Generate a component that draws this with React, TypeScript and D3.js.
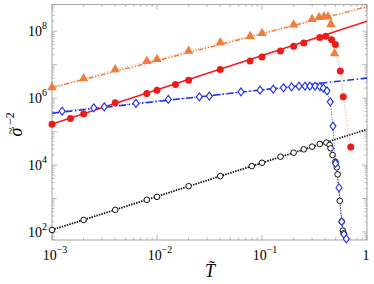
import React from 'react';
import * as d3 from 'd3';

// ---- data ----
const blackT = [0.001, 0.002, 0.004, 0.008, 0.01, 0.02, 0.04, 0.08, 0.1, 0.15, 0.2, 0.25, 0.3, 0.355, 0.41, 0.44, 0.45, 0.47, 0.5, 0.515, 0.525, 0.55, 0.575, 0.59, 0.6];
const blackS = [115, 229, 457, 912, 1120, 2340, 4680, 9330, 11700, 17800, 23400, 29500, 35500, 42700, 46800, 39800, 31600, 20000, 12600, 8510, 5250, 851, 204, 110, 91];

const blueT = [0.00125, 0.0025, 0.00315, 0.0063, 0.0128, 0.0253, 0.0315, 0.063, 0.0957, 0.128, 0.16, 0.191, 0.225, 0.257, 0.286, 0.32, 0.356, 0.384, 0.416, 0.447, 0.474, 0.501, 0.541, 0.574, 0.604, 0.635];
const blueS = [4.09e5, 5.13e5, 5.5e5, 6.95e5, 9.14e5, 1.09e6, 1.15e6, 1.54e6, 1.73e6, 1.86e6, 2.03e6, 2.17e6, 2.28e6, 2.28e6, 2.28e6, 2.28e6, 2.2e6, 1.99e6, 1.65e6, 7.76e5, 1.46e5, 1.12e4, 2100, 203, 85, 62];

const redT = [0.001, 0.0015, 0.002, 0.004, 0.008, 0.01, 0.015, 0.02, 0.04, 0.077, 0.1, 0.15, 0.2, 0.25, 0.355, 0.405, 0.46, 0.5, 0.557, 0.594, 0.7];
const redS = [1.67e5, 2.48e5, 3.33e5, 7.24e5, 1.38e6, 1.73e6, 2.56e6, 3.44e6, 7.19e6, 1.3e7, 1.71e7, 2.58e7, 3.56e7, 4.48e7, 6.49e7, 7.1e7, 5.57e7, 4.04e7, 6.53e6, 1.11e6, 3.44e4];

const orangeT = [0.001, 0.002, 0.004, 0.008, 0.01, 0.02, 0.04, 0.077, 0.1, 0.2, 0.3, 0.35, 0.39, 0.425, 0.454, 0.49];
const orangeS = [2.08e6, 3.87e6, 7.19e6, 1.27e7, 1.46e7, 2.58e7, 4.6e7, 7.1e7, 8.71e7, 1.56e8, 2.28e8, 2.62e8, 2.75e8, 2.71e8, 1.62e8, 2.16e7];

// fitted power laws (endpoints at T = 1e-3 and T = 1)
const fitT = [0.001, 1];
const fitBlack = [115, 1.17e5];
const fitBlue = [3.55e5, 3.98e6];
const fitRed = [1.67e5, 2.0e8];
const fitOrange = [2.06e6, 5.38e8];

// axes
const xDomain = [1e-3, 1];
const yDomain = [57.5, 6.3e8];
const xTicks = [1e-3, 1e-2, 1e-1, 1];
const xTickBase = ['10', '10', '10', '1'];
const xTickExp = ['\u22123', '\u22122', '\u22121', ''];
const yTicks = [1e2, 1e4, 1e6, 1e8];
const yTickExp = ['2', '4', '6', '8'];

const W = 374;
const H = 284;
const L = 52, R = 367, T0 = 4.5, B = 240;

const C_BLACK = '#111111';
const C_BLUE = '#1f2fe8';
const C_RED = '#ee1a1a';
const C_ORANGE = '#f47a3a';
const FRAME = '#a6a6a6';

export default function App() {
  const x = d3.scaleLog().domain(xDomain).range([L, R]);
  const y = d3.scaleLog().domain(yDomain).range([B, T0]);

  const mkLine = (ts: number[]) =>
    d3.line<number>().x((_, i) => x(ts[i])).y((d) => y(d));

  // minor ticks
  const xMinor: number[] = [];
  for (let e = -3; e < 0; e++) for (let m = 2; m <= 9; m++) xMinor.push(m * Math.pow(10, e));
  const yMinor: number[] = [];
  for (let e = 1; e <= 8; e++) for (let m = 2; m <= 9; m++) {
    const v = m * Math.pow(10, e);
    if (v > yDomain[0] && v < yDomain[1]) yMinor.push(v);
  }
  const yMid: number[] = [1e3, 1e5, 1e7];

  const diamond = 'M0,-4L3,0L0,4L-3,0Z';
  const tri = d3.symbol().type(d3.symbolTriangle).size(38)() as string;

  const font = "'Liberation Serif', 'DejaVu Serif', serif";

  return (
    <svg width={W} height={H} style={{ position: 'absolute', left: 0, top: 0, background: '#fff' }} fontFamily={font}>
      <defs>
        <clipPath id="plot">
          <rect x={L} y={T0} width={R - L} height={B - T0} />
        </clipPath>
      </defs>

      {/* frame */}
      <rect x={L} y={T0} width={R - L} height={B - T0} fill="none" stroke={FRAME} strokeWidth={1} />

      {/* ticks */}
      <g stroke={FRAME} strokeWidth={0.8}>
        {xTicks.map((v, i) => (
          <g key={'xt' + i}>
            <line x1={x(v)} x2={x(v)} y1={B} y2={B - 5} />
            <line x1={x(v)} x2={x(v)} y1={T0} y2={T0 + 5} />
          </g>
        ))}
        {xMinor.map((v, i) => (
          <g key={'xm' + i}>
            <line x1={x(v)} x2={x(v)} y1={B} y2={B - 2.5} />
            <line x1={x(v)} x2={x(v)} y1={T0} y2={T0 + 2.5} />
          </g>
        ))}
        {yTicks.concat(yMid).map((v, i) => (
          <g key={'yt' + i}>
            <line x1={L} x2={L + 5} y1={y(v)} y2={y(v)} />
            <line x1={R} x2={R - 5} y1={y(v)} y2={y(v)} />
          </g>
        ))}
        {yMinor.map((v, i) => (
          <g key={'ym' + i}>
            <line x1={L} x2={L + 2.5} y1={y(v)} y2={y(v)} />
            <line x1={R} x2={R - 2.5} y1={y(v)} y2={y(v)} />
          </g>
        ))}
      </g>

      {/* thin connecting lines through the points */}
      <g fill="none" strokeWidth={0.9} strokeDasharray="1,1.6">
        <path d={mkLine(blackT)(blackS) || ''} stroke={C_BLACK} />
        <path d={mkLine(blueT)(blueS) || ''} stroke={C_BLUE} />
        <path d={mkLine(redT)(redS) || ''} stroke="#f48a8a" />
        <path d={mkLine(orangeT)(orangeS) || ''} stroke="#f6a676" />
      </g>

      {/* fit lines */}
      <g fill="none" clipPath="url(#plot)">
        <path d={mkLine(fitT)(fitBlack) || ''} stroke={C_BLACK} strokeWidth={1.8} strokeDasharray="1.3,1.3" />
        <path d={mkLine(fitT)(fitBlue) || ''} stroke={C_BLUE} strokeWidth={1.6} strokeDasharray="7,2.5,1.5,2.5" />
        <path d={mkLine(fitT)(fitRed) || ''} stroke={C_RED} strokeWidth={1.5} />
        <path d={mkLine(fitT)(fitOrange) || ''} stroke={C_ORANGE} strokeWidth={1.5} strokeDasharray="5,1.6,1.4,1.6,1.4,1.6" />
      </g>

      {/* markers */}
      <g>
        {blackT.map((t, i) => (
          <circle key={'b' + i} cx={x(t)} cy={y(blackS[i])} r={2.8} fill="#fff" stroke={C_BLACK} strokeWidth={1} />
        ))}
        {blueT.map((t, i) => (
          <path key={'d' + i} d={diamond} transform={`translate(${x(t)},${y(blueS[i])})`} fill="#fff" stroke={C_BLUE} strokeWidth={1.1} />
        ))}
        {redT.map((t, i) => (
          <circle key={'r' + i} cx={x(t)} cy={y(redS[i])} r={3.5} fill={C_RED} />
        ))}
        {orangeT.map((t, i) => (
          <path key={'o' + i} d={tri} transform={`translate(${x(t)},${y(orangeS[i])})`} fill={C_ORANGE} />
        ))}
      </g>

      {/* tick labels */}
      <g fontSize={14} fill="#000">
        {xTicks.map((v, i) => (
          <text key={'xl' + i} x={x(v) + (xTickExp[i] ? 3 : -1)} y={260} textAnchor="middle">
            {xTickBase[i]}
            {xTickExp[i] && (
              <tspan dy={-7} fontSize={10}>{xTickExp[i]}</tspan>
            )}
          </text>
        ))}
        {yTicks.map((v, i) => (
          <text key={'yl' + i} x={47} y={y(v) + 5} textAnchor="end">
            10
            <tspan dy={-7} fontSize={10}>{yTickExp[i]}</tspan>
          </text>
        ))}
      </g>

      {/* axis titles */}
      <text x={210} y={277} textAnchor="middle" fontSize={18} fontStyle="italic">T&#771;</text>
      <g transform="translate(22,132) rotate(-90)">
        <text x={0} y={0} textAnchor="middle" fontSize={18} fontStyle="italic">σ</text>
        <text x={1} y={-7} textAnchor="middle" fontSize={13}>~</text>
        <text x={7} y={-8} textAnchor="start" fontSize={12}>−2</text>
      </g>
    </svg>
  );
}
